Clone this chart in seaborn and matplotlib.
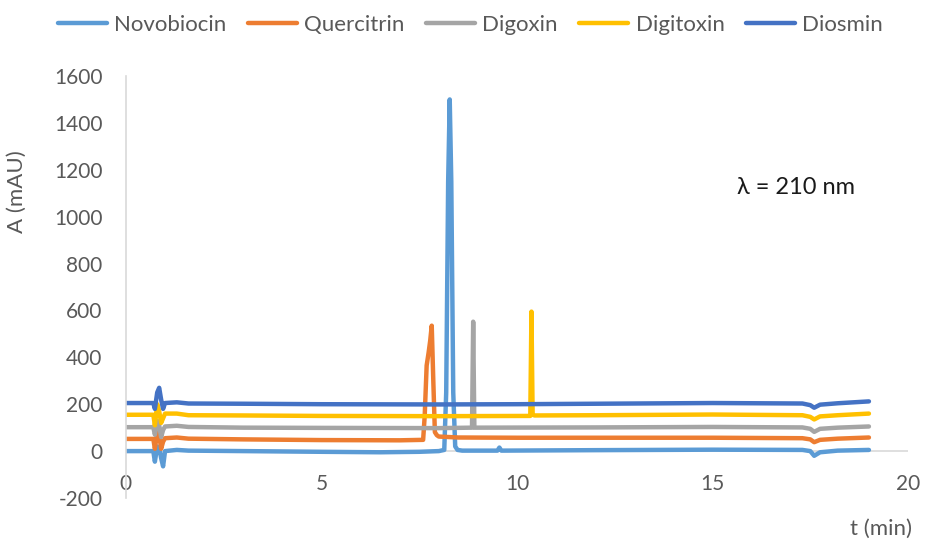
import matplotlib
matplotlib.use("Agg")
import matplotlib.pyplot as plt
import seaborn as sns
import pandas as pd

# Chromatogram traces (time in min, absorbance in mAU), offset by 50 mAU per compound
novobiocin_t = [0, 0.70, 0.74, 0.80, 0.85, 0.90, 0.95, 1.0, 1.3, 1.6, 3.0, 5.0, 6.5, 7.5, 8.0,
                8.14, 8.19, 8.24, 8.28, 8.32, 8.37, 8.42, 8.48, 8.6, 9.5, 9.55, 9.6, 12.0,
                15.0, 17.3, 17.5, 17.6, 17.75, 18.2, 19.0]
novobiocin_v = [0, 0, -45, 20, 15, -30, -65, 0, 5, 2, 0, -3, -5, -3, 0,
                5, 250, 1150, 1500, 1150, 250, 20, 5, 2, 2, 15, 2, 4,
                6, 5, 0, -20, -5, 2, 5]

quercitrin_t = [0, 0.70, 0.74, 0.80, 0.85, 0.90, 0.95, 1.0, 1.3, 1.6, 3.0, 5.0, 7.0, 7.6,
                7.64, 7.69, 7.74, 7.78, 7.82, 7.86, 7.90, 7.95, 8.0, 8.5, 10.0, 15.0, 17.3,
                17.5, 17.6, 17.75, 18.2, 19.0]
quercitrin_v = [52, 52, 10, 80, 70, 10, 40, 55, 58, 53, 50, 47, 46, 48,
                150, 365, 420, 470, 535, 300, 81, 68, 62, 58, 57, 57, 55,
                50, 38, 48, 53, 58]

digoxin_t = [0, 0.70, 0.74, 0.80, 0.85, 0.90, 0.95, 1.0, 1.3, 1.6, 3.0, 5.0, 8.0, 8.85,
             8.88, 8.91, 9.0, 12.0, 15.0, 17.3, 17.5, 17.6, 17.75, 18.2, 19.0]
digoxin_v = [102, 102, 70, 130, 110, 60, 90, 105, 108, 103, 100, 99, 98, 100,
             552, 100, 100, 101, 103, 101, 95, 82, 95, 100, 105]

digitoxin_t = [0, 0.70, 0.74, 0.80, 0.85, 0.90, 0.95, 1.0, 1.3, 1.6, 3.0, 5.0, 8.0, 10.34,
               10.37, 10.40, 10.45, 12.0, 15.0, 17.3, 17.5, 17.6, 17.75, 18.2, 19.0]
digitoxin_v = [155, 155, 110, 200, 170, 120, 140, 160, 160, 153, 152, 150, 149, 150,
               595, 155, 152, 153, 156, 153, 146, 135, 148, 153, 160]

diosmin_t = [0, 0.70, 0.74, 0.80, 0.85, 0.90, 0.95, 1.0, 1.3, 1.6, 3.0, 5.0, 8.0, 10.0,
             12.0, 15.0, 17.3, 17.5, 17.6, 17.75, 18.2, 19.0]
diosmin_v = [205, 205, 180, 250, 270, 220, 180, 205, 208, 203, 202, 200, 199, 200,
             202, 205, 203, 196, 185, 198, 204, 212]

series_names = ["Novobiocin", "Quercitrin", "Digoxin", "Digitoxin", "Diosmin"]
series_t = [novobiocin_t, quercitrin_t, digoxin_t, digitoxin_t, diosmin_t]
series_v = [novobiocin_v, quercitrin_v, digoxin_v, digitoxin_v, diosmin_v]
colors = ["#5B9BD5", "#ED7D31", "#A5A5A5", "#FFC000", "#4472C4"]

x_ticks = [0, 5, 10, 15, 20]
y_ticks = [-200, 0, 200, 400, 600, 800, 1000, 1200, 1400, 1600]

frames = []
for name, t, v in zip(series_names, series_t, series_v):
    frames.append(pd.DataFrame({"t": t, "A": v, "compound": name}))
df = pd.concat(frames, ignore_index=True)

sns.set_theme(style="white")
plt.rcParams["font.family"] = ["Lato", "DejaVu Sans"]
text_gray = "#595959"

fig = plt.figure(figsize=(9.26, 5.47), dpi=100)
ax = fig.add_axes([0.136, 0.0896, 0.8446, 0.7715])

ax.axhline(0, xmin=0, xmax=1, color="#D9D9D9", lw=1.2, zorder=0)

sns.lineplot(data=df, x="t", y="A", hue="compound", hue_order=series_names,
             palette=colors, sort=False, estimator=None, linewidth=3.2,
             ax=ax, legend=False)

ax.set_xlim(0, 20)
ax.set_ylim(-200, 1600)
ax.set_xticks(x_ticks)
ax.set_xticklabels([str(x) for x in x_ticks])
ax.set_yticks(y_ticks)
ax.set_yticklabels([str(y) for y in y_ticks])
ax.tick_params(axis="both", length=0, labelsize=15, labelcolor=text_gray)
ax.tick_params(axis="y", pad=17)
ax.tick_params(axis="x", pad=-17.5)

for side in ["top", "right", "bottom"]:
    ax.spines[side].set_visible(False)
ax.spines["left"].set_color("#D9D9D9")
ax.spines["left"].set_linewidth(1.2)

ax.set_ylabel("A (mAU)", fontsize=16, color=text_gray)
ax.yaxis.set_label_coords(-0.127, 0.725)
ax.set_xlabel("t (min)", fontsize=16, color=text_gray)
ax.xaxis.set_label_coords(0.965, -0.05)

ax.text(0.857, 0.735, "λ = 210 nm", transform=ax.transAxes, fontsize=17,
        color="#1a1a1a", ha="center", va="center", family=["Lato", "DejaVu Sans"])

handles = [plt.Line2D([], [], color=c, lw=3.2) for c in colors]
fig.legend(handles, series_names, loc="center", bbox_to_anchor=(0.508, 0.954),
           ncol=5, frameon=False, fontsize=16, handlelength=2.2,
           handletextpad=0.35, columnspacing=0.95, labelcolor=text_gray)

fig.savefig("out.png", dpi=100)
